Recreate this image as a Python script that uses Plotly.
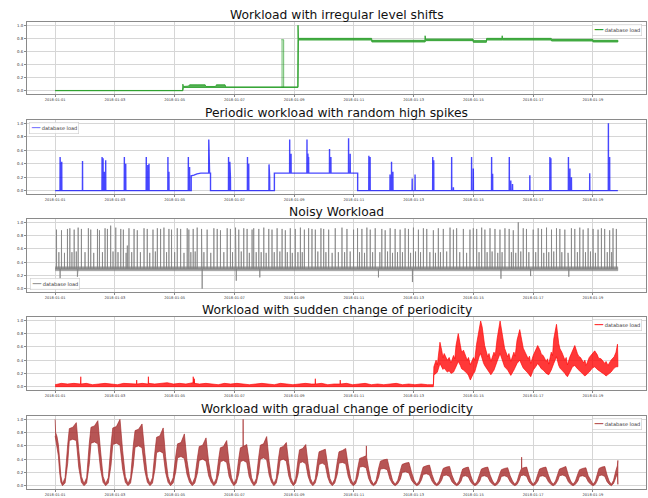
import pandas as pd
import plotly.graph_objects as go

START = pd.Timestamp("2018-01-01 00:00")
X_RANGE = ["2017-12-31 01:24", "2018-01-20 18:36"]
X_TICKS = ["2018-01-01", "2018-01-03", "2018-01-05", "2018-01-07", "2018-01-09",
           "2018-01-11", "2018-01-13", "2018-01-15", "2018-01-17", "2018-01-19"]
Y_TICKS = [0.0, 0.2, 0.4, 0.6, 0.8, 1.0]
Y_TICK_TEXT = ["0.0", "0.2", "0.4", "0.6", "0.8", "1.0"]
TITLES = ["Workload with irregular level shifts",
          "Periodic workload with random high spikes",
          "Noisy Workload",
          "Workload with sudden change of periodicity",
          "Workload with gradual change of periodicity"]
LEGEND_LABEL = "database load"

# ---- panel 1: level shifts, (hour, upper, lower) envelope
LEVEL_BAND = [
    (0.0, 0.004, 0.0), (102.4, 0.004, 0.0), (102.6, 0.10, 0.0), (103.0, 0.065, 0.05),
    (107.0, 0.07, 0.05), (108.0, 0.09, 0.055), (114.0, 0.09, 0.06), (120.5, 0.09, 0.055),
    (121.0, 0.065, 0.05), (129.0, 0.065, 0.05), (129.5, 0.09, 0.055), (136.5, 0.09, 0.055),
    (137.0, 0.058, 0.05), (160.0, 0.058, 0.05), (165.0, 0.065, 0.052), (175.0, 0.062, 0.05),
    (194.9, 0.058, 0.05), (195.1, 1.0, 0.05), (195.4, 0.80, 0.775), (254.2, 0.80, 0.775),
    (254.4, 0.77, 0.745), (297.0, 0.77, 0.745), (297.2, 0.84, 0.745), (297.5, 0.79, 0.765),
    (335.7, 0.79, 0.765), (335.9, 0.765, 0.74), (346.4, 0.765, 0.74), (346.6, 0.80, 0.775),
    (358.9, 0.80, 0.775), (359.1, 0.84, 0.775), (359.3, 0.80, 0.775), (398.5, 0.80, 0.775),
    (398.7, 0.785, 0.76), (431.9, 0.785, 0.76), (432.1, 0.77, 0.745), (452.0, 0.77, 0.745),
]
LEVEL_SPIKE = [(181.6, 0.78, 0.05), (183.6, 0.78, 0.05)]

# ---- panel 2: periodic spikes, base polyline (hour, value) and spikes (hour, height, base)
PERIODIC_BASE = [(0.0, 0.0), (109.3, 0.0), (109.3, 0.22), (111.5, 0.23), (114.0, 0.25),
                 (117.0, 0.26), (124.8, 0.26), (124.8, 0.0), (176.1, 0.0), (176.1, 0.26),
                 (243.0, 0.26), (243.0, 0.0), (452.0, 0.0)]
PERIODIC_SPIKES = [
    (4.0, 0.50, 0.0), (4.6, 0.48, 0.0), (5.3, 0.43, 0.0), (22.0, 0.44, 0.0),
    (37.7, 0.50, 0.0), (38.5, 0.48, 0.0), (39.5, 0.28, 0.0), (40.6, 0.45, 0.0),
    (55.6, 0.50, 0.0), (56.7, 0.40, 0.0), (73.2, 0.50, 0.0), (74.4, 0.38, 0.0), (75.4, 0.40, 0.0),
    (90.6, 0.50, 0.0), (91.4, 0.28, 0.0), (107.0, 0.50, 0.0), (108.0, 0.35, 0.0),
    (123.4, 0.76, 0.26), (124.0, 0.50, 0.26), (139.3, 0.50, 0.0), (140.3, 0.43, 0.0),
    (140.8, 0.20, 0.0), (154.5, 0.50, 0.0), (155.5, 0.40, 0.0), (171.8, 0.39, 0.0),
    (172.3, 0.20, 0.0), (188.4, 0.76, 0.26), (189.5, 0.55, 0.26), (202.3, 0.76, 0.26),
    (203.0, 0.55, 0.26), (203.6, 0.50, 0.26), (220.4, 0.62, 0.26), (221.5, 0.50, 0.26),
    (235.7, 0.78, 0.26), (237.0, 0.55, 0.26), (252.0, 0.52, 0.0), (253.0, 0.50, 0.0),
    (269.0, 0.24, 0.0), (270.2, 0.43, 0.0), (271.3, 0.28, 0.0), (286.8, 0.18, 0.0),
    (289.1, 0.24, 0.0), (303.3, 0.50, 0.0), (304.1, 0.45, 0.0), (318.5, 0.50, 0.0),
    (319.9, 0.05, 0.0), (334.5, 0.50, 0.0), (335.9, 0.33, 0.0), (350.6, 0.50, 0.0),
    (351.4, 0.25, 0.0), (364.8, 0.50, 0.0), (366.0, 0.15, 0.0), (367.4, 0.10, 0.0),
    (381.3, 0.23, 0.0), (397.4, 0.50, 0.0), (398.2, 0.48, 0.0), (412.3, 0.50, 0.0),
    (413.5, 0.33, 0.0), (414.7, 0.20, 0.0), (429.4, 0.26, 0.0), (444.4, 1.00, 0.0),
    (445.4, 0.50, 0.0),
]

# ---- panel 3: noisy workload
NOISY_BASE_BAND = [(0.0, 0.33, 0.27), (452.0, 0.33, 0.27)]
NOISY_LEVEL = 0.30
NOISY_HIGH = [
    (1.1, 0.89), (5.1, 0.88), (9.9, 0.90), (11.8, 0.91), (15.3, 0.89), (18.5, 0.92), (21.1, 0.90),
    (26.7, 0.91), (28.6, 0.89), (34.0, 0.90), (35.6, 0.88), (40.1, 0.91), (42.0, 0.90), (44.6, 0.95),
    (48.7, 0.92), (52.7, 0.90), (54.8, 0.89), (59.3, 0.91), (63.4, 0.90), (66.0, 0.88), (71.4, 0.91),
    (74.0, 0.90), (78.6, 0.89), (82.1, 0.91), (84.7, 0.90), (87.4, 0.92), (91.4, 0.90), (93.5, 0.89),
    (98.1, 0.91), (100.8, 0.90), (106.1, 0.91), (107.4, 0.89), (110.9, 0.90), (114.1, 0.92), (117.6, 0.90),
    (122.1, 0.89), (127.5, 0.91), (130.2, 0.90), (132.8, 0.88), (138.2, 0.91), (140.8, 0.90), (144.9, 0.92),
    (147.5, 0.89), (151.5, 0.91), (154.2, 0.90), (158.2, 0.89), (159.5, 0.91), (163.6, 0.90), (167.6, 0.92),
    (171.6, 0.90), (174.2, 0.89), (178.3, 0.91), (182.3, 0.90), (184.9, 0.88), (188.9, 0.91), (192.9, 0.90),
    (197.0, 0.92), (200.2, 0.89), (203.6, 0.91), (206.3, 0.90), (209.0, 0.89), (213.5, 0.91), (215.7, 0.90),
    (219.7, 0.89), (225.0, 0.91), (230.4, 0.92), (234.4, 0.90), (239.7, 0.89), (242.9, 0.91), (246.4, 0.90),
    (250.4, 0.92), (253.1, 0.89), (257.1, 0.91), (262.4, 0.90), (265.1, 0.88), (269.1, 0.91), (273.1, 0.90),
    (277.1, 0.89), (281.1, 0.91), (283.8, 0.90), (287.8, 0.92), (291.8, 0.89), (295.8, 0.91), (298.5, 0.90),
    (303.8, 0.88), (307.8, 0.91), (311.8, 0.90), (317.2, 0.92), (319.9, 0.89), (322.5, 0.91), (327.9, 0.90),
    (333.2, 0.89), (335.9, 0.91), (338.6, 0.90), (342.6, 0.92), (345.2, 0.89), (349.3, 0.91), (353.3, 0.90),
    (357.3, 0.89), (361.3, 0.91), (364.7, 0.90), (368.0, 0.88), (372.0, 1.00), (376.0, 0.91), (378.6, 0.90),
    (384.0, 0.89), (388.0, 0.91), (390.7, 0.90), (394.7, 0.92), (398.7, 0.89), (402.7, 0.91), (405.4, 0.90),
    (409.4, 0.89), (414.7, 0.91), (417.4, 0.90), (421.4, 0.92), (424.1, 0.89), (428.1, 0.91), (432.1, 0.90),
    (436.1, 0.89), (438.8, 0.91), (441.4, 0.90), (445.4, 0.88), (448.1, 0.91), (450.8, 0.90),
]
NOISY_MEDIUM = [
    (3.0, 0.55), (7.5, 0.54), (13.5, 0.55), (17.0, 0.56), (24.0, 0.55), (31.0, 0.54), (38.0, 0.55),
    (46.5, 0.56), (50.5, 0.55), (57.0, 0.54), (58.0, 0.65), (61.5, 0.55), (68.5, 0.55), (76.0, 0.54),
    (80.5, 0.56), (89.5, 0.55), (96.0, 0.55), (103.5, 0.54), (109.0, 0.55), (112.5, 0.56), (119.5, 0.55),
    (125.0, 0.54), (135.5, 0.55), (142.5, 0.55), (149.5, 0.56), (156.0, 0.54), (161.5, 0.55), (165.5, 0.55),
    (169.5, 0.54), (176.0, 0.55), (180.5, 0.56), (186.5, 0.55), (190.5, 0.54), (195.0, 0.55), (198.5, 0.55),
    (211.0, 0.56), (217.5, 0.55), (222.5, 0.54), (227.5, 0.55), (232.5, 0.55), (237.0, 0.56), (244.5, 0.55),
    (248.5, 0.54), (255.0, 0.55), (260.8, 0.55), (267.0, 0.56), (271.0, 0.54), (275.0, 0.55), (279.0, 0.55),
    (285.5, 0.54), (289.5, 0.56), (293.5, 0.55), (301.0, 0.55), (305.5, 0.54), (309.5, 0.55), (314.5, 0.56),
    (325.0, 0.55), (330.5, 0.54), (340.5, 0.55), (347.0, 0.55), (351.0, 0.56), (355.5, 0.54), (359.0, 0.55),
    (366.5, 0.55), (370.0, 0.54), (374.0, 0.56), (380.5, 0.55), (386.0, 0.55), (392.5, 0.54), (396.5, 0.55),
    (400.5, 0.56), (407.0, 0.55), (412.0, 0.54), (419.5, 0.55), (426.0, 0.55), (430.0, 0.56), (434.0, 0.54),
    (443.5, 0.55), (447.0, 0.55),
]
NOISY_DIPS = [(4.0, 0.15), (17.9, 0.18), (118.1, 0.0), (145.5, 0.12), (164.4, 0.17), (259.7, 0.17),
              (287.0, 0.10), (358.1, 0.15), (381.9, 0.19), (412.6, 0.18)]

# ---- panel 4: sudden change of periodicity, (hour, upper, lower)
SUDDEN_BAND = [
    (0.0, 0.03, 0.0), (5.0, 0.05, 0.0), (10.0, 0.04, 0.0), (15.0, 0.05, 0.005), (20.4, 0.04, 0.0),
    (20.6, 0.15, 0.0), (20.8, 0.04, 0.0), (25.0, 0.05, 0.0), (30.0, 0.03, 0.0), (35.0, 0.04, 0.0),
    (40.0, 0.05, 0.0), (45.0, 0.04, 0.0), (50.0, 0.03, 0.0), (55.0, 0.05, 0.0), (60.0, 0.04, 0.0),
    (65.3, 0.04, 0.0), (65.5, 0.10, 0.0), (65.7, 0.04, 0.0), (70.0, 0.05, 0.0), (74.7, 0.04, 0.0),
    (74.9, 0.15, 0.0), (75.1, 0.05, 0.0), (80.0, 0.04, 0.0), (85.0, 0.05, 0.0), (90.0, 0.06, 0.0),
    (95.0, 0.04, 0.0), (100.0, 0.05, 0.0), (105.0, 0.04, 0.0), (110.7, 0.06, 0.0), (110.9, 0.15, 0.0),
    (111.1, 0.06, 0.0), (111.6, 0.05, 0.0), (111.8, 0.12, 0.0), (112.0, 0.05, 0.0), (116.0, 0.04, 0.0),
    (121.0, 0.05, 0.0), (126.0, 0.04, 0.0), (131.0, 0.03, 0.0), (136.0, 0.05, 0.0), (141.0, 0.04, 0.0),
    (146.0, 0.05, 0.0), (151.0, 0.04, 0.0), (156.0, 0.03, 0.0), (161.0, 0.04, 0.0), (166.0, 0.05, 0.0),
    (171.0, 0.04, 0.0), (176.0, 0.03, 0.0), (181.0, 0.05, 0.0), (186.0, 0.04, 0.0), (191.0, 0.03, 0.0),
    (196.0, 0.04, 0.0), (201.0, 0.05, 0.0), (206.0, 0.04, 0.0), (208.8, 0.04, 0.0), (209.0, 0.12, 0.0),
    (209.2, 0.04, 0.0), (214.0, 0.05, 0.0), (219.0, 0.03, 0.0), (224.0, 0.04, 0.0), (228.8, 0.04, 0.0),
    (229.0, 0.10, 0.0), (229.2, 0.04, 0.0), (234.0, 0.05, 0.0), (239.0, 0.03, 0.0), (244.0, 0.04, 0.0),
    (249.0, 0.05, 0.0), (254.0, 0.03, 0.0), (259.0, 0.04, 0.0), (264.0, 0.03, 0.0), (269.0, 0.04, 0.0),
    (274.0, 0.05, 0.0), (279.0, 0.03, 0.0), (284.0, 0.04, 0.0), (289.0, 0.03, 0.0), (294.0, 0.04, 0.0),
    (299.0, 0.03, 0.0), (303.8, 0.03, 0.0),
    (304.2, 0.30, 0.18), (306.0, 0.40, 0.20), (307.0, 0.33, 0.22), (308.0, 0.52, 0.28), (309.1, 0.67, 0.35),
    (310.5, 0.55, 0.30), (311.5, 0.44, 0.26), (312.5, 0.50, 0.28), (315.0, 0.40, 0.22), (316.5, 0.44, 0.24),
    (318.0, 0.36, 0.20), (320.0, 0.47, 0.22), (321.0, 0.42, 0.25), (322.0, 0.62, 0.30), (323.8, 0.80, 0.38),
    (325.5, 0.62, 0.32), (326.5, 0.52, 0.27), (328.0, 0.55, 0.25), (331.0, 0.40, 0.20), (332.0, 0.44, 0.17),
    (333.5, 0.33, 0.10), (336.0, 0.44, 0.20), (337.0, 0.40, 0.22), (338.5, 0.64, 0.30), (340.5, 0.85, 0.45),
    (341.8, 0.99, 0.50), (343.0, 0.90, 0.42), (344.0, 0.70, 0.36), (345.0, 0.62, 0.32), (347.5, 0.45, 0.25),
    (348.5, 0.50, 0.22), (350.0, 0.38, 0.18), (352.5, 0.52, 0.25), (353.5, 0.47, 0.28), (355.0, 0.72, 0.38),
    (357.4, 0.99, 0.50), (359.0, 0.80, 0.40), (360.0, 0.64, 0.35), (361.0, 0.58, 0.30), (363.5, 0.45, 0.25),
    (364.5, 0.50, 0.22), (366.0, 0.38, 0.17), (368.5, 0.52, 0.25), (369.5, 0.46, 0.28), (371.0, 0.70, 0.35),
    (373.2, 0.86, 0.40), (375.0, 0.65, 0.32), (376.0, 0.58, 0.28), (377.5, 0.52, 0.25), (380.0, 0.42, 0.20),
    (381.0, 0.46, 0.18), (382.0, 0.35, 0.15), (384.0, 0.47, 0.25), (386.0, 0.55, 0.30), (387.6, 0.62, 0.35),
    (389.5, 0.55, 0.30), (390.5, 0.49, 0.27), (392.0, 0.47, 0.25), (394.5, 0.38, 0.20), (395.5, 0.42, 0.19),
    (396.5, 0.34, 0.18), (398.5, 0.52, 0.25), (399.5, 0.47, 0.28), (400.5, 0.72, 0.35), (402.7, 0.94, 0.45),
    (404.5, 0.65, 0.32), (405.5, 0.57, 0.28), (407.0, 0.52, 0.25), (409.5, 0.40, 0.20), (410.5, 0.44, 0.17),
    (411.5, 0.33, 0.15), (413.5, 0.45, 0.22), (415.5, 0.55, 0.30), (417.4, 0.62, 0.32), (419.5, 0.50, 0.27),
    (420.5, 0.46, 0.24), (422.0, 0.44, 0.22), (424.5, 0.36, 0.18), (425.5, 0.40, 0.16), (426.5, 0.32, 0.17),
    (429.0, 0.44, 0.22), (431.5, 0.50, 0.28), (433.4, 0.54, 0.30), (435.5, 0.48, 0.26), (436.5, 0.43, 0.24),
    (438.5, 0.42, 0.22), (441.5, 0.35, 0.18), (442.5, 0.38, 0.16), (444.0, 0.32, 0.18), (446.5, 0.40, 0.22),
    (449.0, 0.45, 0.28), (450.5, 0.52, 0.30), (451.7, 0.64, 0.30), (452.0, 0.40, 0.30),
]

# ---- panel 5: gradual change of periodicity, (hour, upper, lower)
GRADUAL_BAND = [
    (0.0, 1.00, 0.75), (0.4, 0.80, 0.72), (1.5, 0.74, 0.60), (2.6, 0.62, 0.45), (3.6, 0.40, 0.20), (4.6, 0.15, 0.05),
    (5.9, 0.03, 0.00), (8.0, 0.12, 0.04), (10.1, 0.62, 0.34), (11.4, 0.86, 0.68), (14.2, 0.88, 0.70), (17.0, 0.95, 0.68), (19.0, 0.53, 0.27), (21.1, 0.14, 0.05),
    (23.2, 0.03, 0.00), (25.3, 0.12, 0.04), (27.4, 0.63, 0.32), (28.8, 0.88, 0.64), (31.6, 0.90, 0.66), (34.3, 0.98, 0.63), (36.4, 0.54, 0.26), (38.5, 0.14, 0.05),
    (40.6, 0.03, 0.00), (42.7, 0.12, 0.04), (44.9, 0.62, 0.31), (46.3, 0.87, 0.62), (49.2, 0.89, 0.64), (52.1, 1.00, 0.61), (54.2, 0.53, 0.25), (56.4, 0.14, 0.05),
    (58.5, 0.03, 0.00), (60.6, 0.12, 0.04), (62.7, 0.59, 0.29), (64.2, 0.83, 0.58), (67.0, 0.85, 0.60), (69.8, 0.93, 0.57), (72.0, 0.50, 0.23), (74.1, 0.14, 0.05),
    (76.2, 0.03, 0.00), (78.2, 0.12, 0.04), (80.2, 0.52, 0.25), (81.5, 0.73, 0.50), (84.1, 0.75, 0.52), (86.8, 0.87, 0.49), (88.7, 0.44, 0.20), (90.7, 0.14, 0.05),
    (92.7, 0.03, 0.00), (94.8, 0.12, 0.04), (96.9, 0.45, 0.21), (98.3, 0.63, 0.42), (101.1, 0.65, 0.44), (103.8, 0.78, 0.41), (105.9, 0.38, 0.17), (108.0, 0.13, 0.05),
    (110.1, 0.03, 0.00), (112.2, 0.12, 0.04), (114.3, 0.42, 0.19), (115.7, 0.59, 0.38), (118.5, 0.61, 0.40), (121.2, 0.72, 0.37), (123.3, 0.36, 0.15), (125.4, 0.13, 0.05),
    (127.5, 0.03, 0.00), (129.4, 0.11, 0.04), (131.4, 0.41, 0.18), (132.7, 0.57, 0.36), (135.2, 0.59, 0.38), (137.8, 0.68, 0.35), (139.7, 0.35, 0.14), (141.7, 0.12, 0.05),
    (143.6, 0.03, 0.00), (145.5, 0.11, 0.04), (147.5, 0.41, 0.18), (148.8, 0.57, 0.36), (150.9, 0.59, 0.38), (151.0, 1.00, 0.38), (151.1, 0.59, 0.38), (153.9, 0.62, 0.35), (155.8, 0.35, 0.14), (157.8, 0.12, 0.05),
    (159.7, 0.03, 0.00), (161.6, 0.11, 0.04), (163.5, 0.43, 0.20), (164.8, 0.61, 0.40), (167.4, 0.63, 0.42), (169.9, 0.74, 0.39), (171.9, 0.37, 0.16), (173.8, 0.12, 0.05),
    (175.7, 0.03, 0.00), (177.6, 0.11, 0.04), (179.4, 0.41, 0.19), (180.7, 0.57, 0.38), (183.2, 0.59, 0.40), (185.7, 0.65, 0.37), (187.6, 0.35, 0.15), (189.4, 0.12, 0.05),
    (191.3, 0.03, 0.00), (193.2, 0.11, 0.04), (195.1, 0.39, 0.17), (196.3, 0.54, 0.34), (198.8, 0.56, 0.36), (201.3, 0.62, 0.33), (203.2, 0.33, 0.14), (205.1, 0.11, 0.04),
    (207.0, 0.03, 0.00), (208.9, 0.10, 0.04), (210.7, 0.36, 0.16), (212.0, 0.51, 0.32), (214.5, 0.53, 0.34), (217.0, 0.55, 0.31), (218.9, 0.31, 0.13), (220.7, 0.11, 0.04),
    (222.6, 0.03, 0.00), (224.6, 0.10, 0.04), (226.6, 0.36, 0.17), (228.0, 0.51, 0.34), (230.7, 0.53, 0.35), (233.4, 0.56, 0.33), (235.4, 0.31, 0.14), (237.4, 0.11, 0.04),
    (239.4, 0.03, 0.00), (241.4, 0.09, 0.03), (243.3, 0.29, 0.14), (244.6, 0.41, 0.28), (247.2, 0.43, 0.29), (249.8, 0.45, 0.27), (250.0, 0.60, 0.27), (250.2, 0.43, 0.27), (251.8, 0.25, 0.11), (253.7, 0.09, 0.03),
    (255.7, 0.02, 0.00), (257.8, 0.08, 0.03), (259.9, 0.27, 0.13), (261.3, 0.37, 0.25), (264.1, 0.39, 0.26), (266.8, 0.40, 0.24), (268.9, 0.23, 0.10), (271.0, 0.08, 0.03),
    (273.1, 0.02, 0.00), (275.2, 0.08, 0.03), (277.3, 0.23, 0.10), (278.7, 0.32, 0.20), (281.5, 0.34, 0.21), (284.2, 0.35, 0.19), (286.3, 0.20, 0.08), (288.4, 0.08, 0.03),
    (290.5, 0.02, 0.00), (292.4, 0.07, 0.02), (294.3, 0.20, 0.09), (295.6, 0.28, 0.17), (298.2, 0.30, 0.18), (300.7, 0.31, 0.16), (302.7, 0.17, 0.07), (304.6, 0.07, 0.02),
    (306.5, 0.02, 0.00), (308.4, 0.07, 0.02), (310.4, 0.19, 0.08), (311.7, 0.26, 0.15), (314.2, 0.28, 0.16), (316.8, 0.29, 0.14), (318.7, 0.16, 0.06), (320.7, 0.07, 0.02),
    (322.6, 0.02, 0.00), (324.4, 0.07, 0.02), (326.1, 0.18, 0.07), (327.3, 0.25, 0.14), (329.6, 0.27, 0.15), (331.9, 0.28, 0.13), (333.7, 0.16, 0.06), (335.4, 0.07, 0.02),
    (337.2, 0.02, 0.00), (339.1, 0.07, 0.02), (341.1, 0.18, 0.07), (342.4, 0.25, 0.14), (344.9, 0.27, 0.15), (347.5, 0.28, 0.13), (349.4, 0.16, 0.06), (351.4, 0.07, 0.02),
    (353.3, 0.02, 0.00), (355.2, 0.07, 0.02), (357.1, 0.18, 0.07), (358.4, 0.24, 0.14), (361.0, 0.26, 0.15), (363.5, 0.27, 0.13), (365.5, 0.15, 0.06), (367.4, 0.07, 0.02),
    (369.3, 0.02, 0.00), (371.1, 0.07, 0.02), (372.8, 0.18, 0.08), (374.0, 0.25, 0.15), (374.6, 0.26, 0.16), (374.7, 0.43, 0.16), (374.8, 0.26, 0.16), (376.4, 0.27, 0.16), (378.7, 0.28, 0.14), (380.5, 0.16, 0.06), (382.2, 0.07, 0.02),
    (384.0, 0.02, 0.00), (385.9, 0.07, 0.02), (387.8, 0.18, 0.07), (389.1, 0.25, 0.14), (391.7, 0.27, 0.15), (394.2, 0.28, 0.13), (396.2, 0.16, 0.06), (398.1, 0.07, 0.02),
    (400.0, 0.02, 0.00), (401.9, 0.07, 0.02), (403.8, 0.18, 0.08), (405.1, 0.25, 0.15), (407.7, 0.27, 0.16), (410.2, 0.29, 0.14), (412.2, 0.16, 0.06), (414.1, 0.07, 0.02),
    (416.0, 0.02, 0.00), (417.9, 0.07, 0.02), (419.9, 0.18, 0.07), (421.2, 0.24, 0.14), (423.7, 0.26, 0.15), (426.3, 0.27, 0.13), (428.2, 0.15, 0.06), (430.2, 0.07, 0.02),
    (432.1, 0.02, 0.00), (433.9, 0.07, 0.02), (435.6, 0.19, 0.08), (436.8, 0.26, 0.15), (439.2, 0.28, 0.16), (441.5, 0.29, 0.14), (443.3, 0.16, 0.06), (445.0, 0.07, 0.02),
    (446.8, 0.02, 0.00), (448.5, 0.08, 0.03), (450.3, 0.22, 0.12), (451.6, 0.30, 0.18), (452.0, 0.38, 0.02),
]

# ---- styling
GREEN = "#2ca02c"
BLUE = "rgba(0,0,255,0.72)"
GREY = "rgba(128,128,128,0.75)"
RED = "rgba(255,0,0,0.8)"
BROWN = "rgba(165,42,42,0.82)"
W, H = 648, 498
X_DOMAIN = [27 / W, 646 / W]
PANEL_PX = [(22, 94), (120, 194), (219, 292), (317, 390), (416, 489)]  # top, bottom


def to_time(hours):
    return [START + pd.Timedelta(hours=float(h)) for h in hours]


def band_trace(rows, ax, line_color, fill_color, width=0.8):
    t = [r[0] for r in rows]
    hi = [r[1] for r in rows]
    lo = [r[2] for r in rows]
    return go.Scatter(x=to_time(t + t[::-1]), y=hi + lo[::-1], mode="lines", fill="toself",
                      fillcolor=fill_color, line=dict(color=line_color, width=width),
                      xaxis="x" + ax, yaxis="y" + ax, hoverinfo="skip", showlegend=False)


def spike_points(base_pts, spikes, half=0.08):
    pts = [(t, v) for t, v in base_pts]
    for t, h, b in spikes:
        pts += [(t - half, b), (t, h), (t + half, b)]
    pts.sort(key=lambda p: p[0])
    return [p[0] for p in pts], [p[1] for p in pts]


def line_trace(t, v, ax, color, width):
    return go.Scatter(x=to_time(t), y=v, mode="lines", line=dict(color=color, width=width),
                      xaxis="x" + ax, yaxis="y" + ax, hoverinfo="skip", showlegend=False)


fig = go.Figure()
# panel 1
fig.add_trace(band_trace(LEVEL_BAND, "", GREEN, "rgba(44,160,44,0.8)", 0.9))
fig.add_trace(band_trace(LEVEL_SPIKE, "", "rgba(44,160,44,0.7)", "rgba(44,160,44,0.4)", 0.8))
# panel 2
t2, v2 = spike_points(PERIODIC_BASE, PERIODIC_SPIKES)
fig.add_trace(line_trace(t2, v2, "2", BLUE, 1.4))
# panel 3
fig.add_trace(band_trace(NOISY_BASE_BAND, "3", "rgba(128,128,128,0.6)", "rgba(128,128,128,0.75)", 0.6))
noisy_events = [(t, h, NOISY_LEVEL) for t, h in NOISY_HIGH + NOISY_MEDIUM + NOISY_DIPS]
t3, v3 = spike_points([(0.0, NOISY_LEVEL), (452.0, NOISY_LEVEL)], noisy_events)
fig.add_trace(line_trace(t3, v3, "3", GREY, 1.0))
# panel 4
fig.add_trace(band_trace(SUDDEN_BAND, "4", RED, "rgba(255,0,0,0.78)", 0.8))
# panel 5
fig.add_trace(band_trace(GRADUAL_BAND, "5", BROWN, "rgba(165,42,42,0.8)", 0.8))

axis_common = dict(showline=True, mirror=True, linecolor="#8a8a8a", linewidth=1.2,
                   showgrid=True, gridcolor="#d6d6d6", gridwidth=0.8, zeroline=False,
                   ticks="outside", ticklen=2, tickwidth=0.5, tickcolor="#888",
                   automargin=False)
layout = dict(width=W, height=H, margin=dict(l=0, r=0, t=0, b=0, autoexpand=False),
              paper_bgcolor="white", plot_bgcolor="white",
              font=dict(family="DejaVu Sans", color="#333"), showlegend=False)
annotations = []
legend_specs = [  # legend box left edge (px), anchored corner, colour for each panel
    (591.5, "top", GREEN),
    (28.5, "top", "rgba(0,0,255,0.5)"),
    (29.5, "bottom", "rgba(128,128,128,0.8)"),
    (591.5, "top", "rgba(255,0,0,0.8)"),
    (591.5, "top", "rgba(165,42,42,0.8)"),
]
for i, ((top, bot), title, (lxp, ya, col)) in enumerate(zip(PANEL_PX, TITLES, legend_specs)):
    sfx = "" if i == 0 else str(i + 1)
    dom = [1 - bot / H, 1 - top / H]
    layout["xaxis" + sfx] = dict(axis_common, domain=X_DOMAIN, anchor="y" + sfx, type="date",
                                 range=X_RANGE, tickmode="array", tickvals=X_TICKS, ticktext=X_TICKS,
                                 tickfont=dict(size=3.6, color="#333"))
    layout["yaxis" + sfx] = dict(axis_common, domain=dom, anchor="x" + sfx, range=[-0.05, 1.05],
                                 tickmode="array", tickvals=Y_TICKS, ticktext=Y_TICK_TEXT,
                                 tickfont=dict(size=3.9, color="#333"))
    annotations.append(dict(text=title, xref="paper", yref="paper",
                            x=(X_DOMAIN[0] + X_DOMAIN[1]) / 2, y=1 - (top - 7.4) / H,
                            xanchor="center", yanchor="middle", showarrow=False,
                            font=dict(size=12.3, color="#111", family="DejaVu Sans")))
    ly = 1 - (top + 2.3) / H if ya == "top" else 1 - (bot - 2.2) / H
    annotations.append(dict(text=f'<span style="color:{col};font-size:7px">━━</span> {LEGEND_LABEL}',
                            xref="paper", yref="paper", x=lxp / W, y=ly, xanchor="left", yanchor=ya,
                            showarrow=False, align="left", bgcolor="rgba(255,255,255,0.85)",
                            bordercolor="#cccccc", borderwidth=0.6, borderpad=1.2,
                            font=dict(size=5, color="#333", family="DejaVu Sans")))
layout["annotations"] = annotations
fig.update_layout(**layout)
fig.write_html("out.html", config={"displayModeBar": False},
               post_script="document.body.style.margin='0';document.body.style.padding='0';"
                           "document.body.style.overflow='hidden';")
